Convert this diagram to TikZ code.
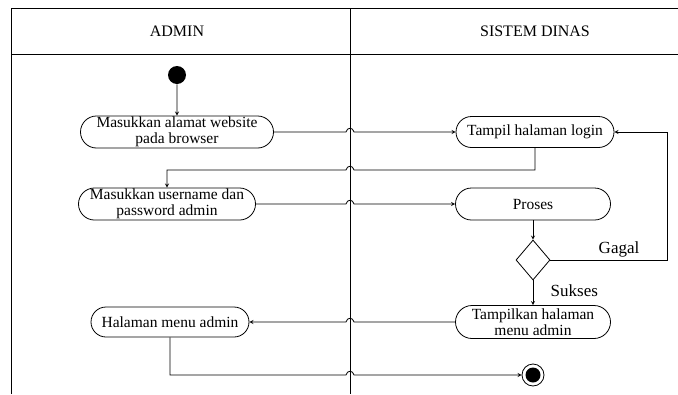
\documentclass[tikz,border=0pt]{standalone}
\usepackage{fontspec}
\setmainfont{Liberation Serif}
\usetikzlibrary{shapes.misc, shapes.geometric}

\begin{document}
\begin{tikzpicture}[>=stealth, x=1pt, y=-1pt, line width=0.8pt,
  act/.style={draw, rounded rectangle, align=center, inner sep=1pt, font=\fontsize{15.5}{16}\selectfont},
  lbl/.style={font=\fontsize{16}{17}\selectfont},
  cond/.style={font=\fontsize{17}{18}\selectfont}]
\useasboundingbox (0,0) rectangle (678,394);
% swimlanes
\draw (11,394) -- (11,8) -- (678,8);
\draw (11,54) -- (678,54);
\draw (350,8) -- (350,394);
\node[lbl] (admin) at (177,31) {ADMIN};
\node[lbl] (dinas) at (535,31) {SISTEM DINAS};

% activities
\node[circle, fill=black, minimum size=18pt, inner sep=0pt] (start) at (177,75) {};
\node[act, minimum width=195pt, minimum height=31pt] (masuk) at (177,132) {Masukkan alamat website\\pada browser};
\node[act, minimum width=160pt, minimum height=31pt] (login) at (535,132) {Tampil halaman login};
\node[act, minimum width=175pt, minimum height=32pt] (userpw) at (167,204) {Masukkan username dan\\password admin};
\node[act, minimum width=157pt, minimum height=32pt] (proses) at (533,204) {Proses};
\node[draw, diamond, minimum width=34pt, minimum height=40pt, inner sep=0pt] (cek) at (533,260) {};
\node[act, minimum width=157pt, minimum height=33pt] (tampil) at (533,322) {Tampilkan halaman\\menu admin};
\node[act, minimum width=160pt, minimum height=30pt] (menu) at (170,322) {Halaman menu admin};
\node[circle, draw, minimum size=22pt, inner sep=0pt] (akhir) at (533,375) {};
\fill (akhir) circle [radius=7.5pt];

% flows
\draw[->] (start) -- (masuk);
\draw[->] (masuk.east) -- (346,132) .. controls (347,127) and (353,127) .. (354,132) -- (login.west);
\draw[->] (login.south) |- (354,170) .. controls (353,165) and (347,165) .. (346,170) -| (userpw.north);
\draw[->] (userpw.east) -- (346,204) .. controls (347,199) and (353,199) .. (354,204) -- (proses.west);
\draw[->] (proses.south) -- (cek.north);
\draw[->] (cek.east) -- (667,260) |- (login.east);
\node[cond, anchor=base west] (gagal) at (595,253) {Gagal};
\draw[->] (cek.south) -- (tampil.north);
\node[cond, anchor=base west] (sukses) at (547,296) {Sukses};
\draw[->] (tampil.west) -- (354,322) .. controls (353,317) and (347,317) .. (346,322) -- (menu.east);
\draw[->] (menu.south) |- (346,375) .. controls (347,370) and (353,370) .. (354,375) -- (akhir.west);
\end{tikzpicture}
\end{document}
